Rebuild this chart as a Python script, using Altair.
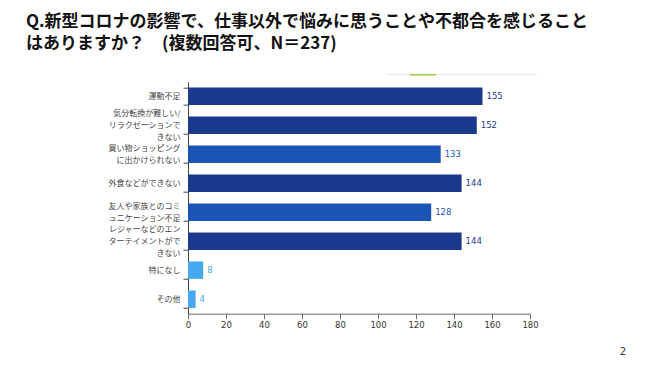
import altair as alt
import pandas as pd

title_lines = ["Q.新型コロナの影響で、仕事以外で悩みに思うことや不都合を感じること",
               "はありますか？　(複数回答可、N＝237)"]
categories = ["運動不足",
              "気分転換が難しい/\nリラクゼーションで\nきない",
              "買い物ショッピング\nに出かけられない",
              "外食などができない",
              "友人や家族とのコミ\nュニケーション不足",
              "レジャーなどのエン\nターテイメントがで\nきない",
              "特になし",
              "その他"]
values = [155, 152, 133, 144, 128, 144, 8, 4]
tones = ["dark", "dark", "mid", "dark", "mid", "dark", "light", "light"]
x_ticks = [0, 20, 40, 60, 80, 100, 120, 140, 160, 180]
page_number = "2"

df = pd.DataFrame({"cat": categories, "val": values, "tone": tones})

JP = "Noto Sans CJK JP"
tone_dom = ["dark", "mid", "light"]
bar_cols = ["#1b3a8e", "#1a55b5", "#45a8f0"]
lab_cols = ["#3c4c8e", "#3c5aa0", "#86bdf0"]
LH = 12

y_enc = alt.Y("cat:N", sort=categories, title=None,
              scale=alt.Scale(paddingInner=0.4, paddingOuter=0.2),
              axis=alt.Axis(labelExpr="split(datum.label, '\\n')", labelFont=JP,
                            labelFontSize=8, labelColor="#454545", labelLineHeight=LH,
                            labelOffset=alt.ExprRef(
                                f"-(length(split(datum.label, '\\n')) - 1) * {LH / 2}"),
                            labelPadding=3, tickBand="extent", tickSize=5,
                            tickColor="#444444", domainColor="#444444", labelLimit=200,
                            labelOverlap=False))
x_enc = alt.X("val:Q", title=None,
              scale=alt.Scale(domain=[0, 180], nice=False, zero=True),
              axis=alt.Axis(values=x_ticks, tickCount=10, grid=False, labelFont="DejaVu Sans",
                            labelFontSize=8.5, labelColor="#333333", tickSize=5,
                            tickColor="#666666", domainColor="#666666", labelPadding=2,
                            labelOverlap=False, labelFlush=False))

base = alt.Chart(df)
bars = base.mark_bar().encode(
    y=y_enc, x=x_enc,
    color=alt.Color("tone:N", scale=alt.Scale(domain=tone_dom, range=bar_cols), legend=None))
labels = base.mark_text(align="left", baseline="middle", dx=4, font="DejaVu Sans",
                        fontSize=8.5).encode(
    y=y_enc, x=x_enc, text="val:Q",
    color=alt.Color("tone:N", scale=alt.Scale(domain=tone_dom, range=lab_cols), legend=None))

tdf = pd.DataFrame({"t": ["\n".join(title_lines)]})
title = alt.Chart(tdf).mark_text(align="left", baseline="top", font=JP, fontSize=17,
                                  fontWeight="bold", color="#111111", lineHeight=22,
                                  lineBreak="\n").encode(
    text="t:N", x=alt.value(-162), y=alt.value(-68))

pdf = pd.DataFrame({"t": [page_number]})
pnum = alt.Chart(pdf).mark_text(align="center", baseline="bottom", font="DejaVu Sans",
                                fontSize=10, color="#333333").encode(
    text="t:N", x=alt.value(435), y=alt.value(275))

deco_line = alt.Chart(pdf).mark_rule(color="#e6e6e6", strokeWidth=1).encode(
    x=alt.value(198), x2=alt.value(349), y=alt.value(-7))
deco_green = alt.Chart(pdf).mark_rule(color="#9ccc3c", strokeWidth=1.5).encode(
    x=alt.value(222), x2=alt.value(248), y=alt.value(-7))

chart = alt.layer(bars, labels, title, pnum, deco_line, deco_green).properties(
    width=342, height=232,
    background="white",
    padding={"left": 180, "top": 73.7, "right": 112, "bottom": 43.3},
    autosize=alt.AutoSizeParams(type="none"),
).configure_view(stroke=None)

chart.save("out.html", embed_options={"renderer": "svg", "actions": False})
